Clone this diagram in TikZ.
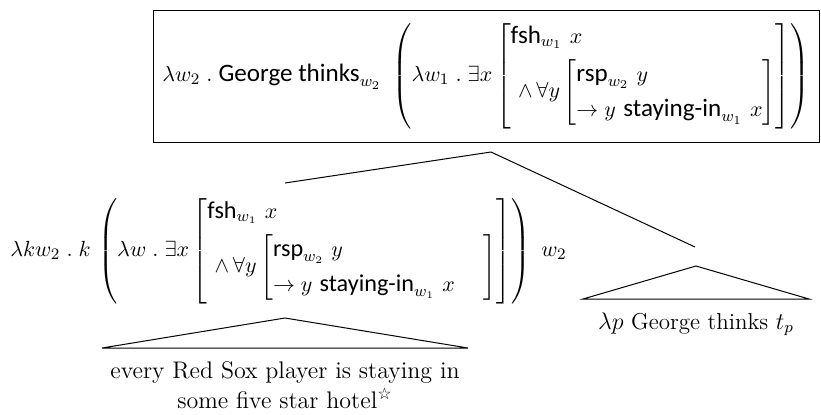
\documentclass[tikz,border=0pt]{standalone}
\usepackage{amsmath}
\usepackage{fontspec}
\setsansfont{Carlito}[Scale=1.1]
\newfontfamily\starfont{DejaVu Sans}
\newcommand{\sfw}[1]{\textsf{#1}}
\newcommand{\innerrows}[1]{\renewcommand{\arraystretch}{1.35}\begin{array}{@{}l@{#1}}\sfw{rsp}_{w_2}\ y\\ \rightarrow y\ \sfw{staying-in}_{w_1}\ x\end{array}}
\begin{document}
\begin{tikzpicture}[x=0.5pt,y=-0.5pt,
  every node/.style={font=\fontsize{11.5}{13.5}\selectfont, inner sep=0pt},
  mathnode/.style={font=\fontsize{11}{13}\selectfont},
  edge/.style={line width=0.5pt},
  frame/.style={draw, line width=0.5pt, inner sep=0pt}]
\useasboundingbox (0,0) rectangle (821,414);
\node[frame, minimum width=333pt, minimum height=66pt] (box) at (486.5,76) {};
\node[mathnode, font=\fontsize{11.4}{13}\selectfont, anchor=west] (top) at ([xshift=4.5pt]box.west) {$\lambda w_2\;.\;\sfw{George thinks}_{w_2}\ \left(\lambda w_1\;.\;\exists x\left[\begin{array}{@{}l@{}}\sfw{fsh}_{w_1}\ x\\[3pt] \ \wedge\,\forall y\left[\innerrows{}\right]\end{array}\right]\right)$};
\coordinate (apex) at (491,152);
\coordinate (lend) at (285,183);
\coordinate (rend) at (695,247);
\draw[edge] (lend) -- (apex) -- (rend);
\node[mathnode, anchor=west] (left) at (10,251) {$\lambda k w_2\;.\;k\,\left(\lambda w\;.\;\exists x\left[\begin{array}{@{}l@{}}\sfw{fsh}_{w_1}\ x\\[3pt] \ \wedge\,\forall y\left[\innerrows{\quad\ }\right]\end{array}\right]\right)\ w_2$};
% left triangle
\coordinate (lt) at (285,318);
\coordinate (lbl) at (102,348);
\coordinate (lbr) at (468,348);
\draw[edge] (lt) -- (lbl) -- (lbr) -- cycle;
\node[align=center, anchor=north, font=\fontsize{12}{15}\selectfont] (ltext) at (285,361) {every Red Sox player is staying in\\some five star hotel\textsuperscript{\starfont ☆}};
% right triangle
\coordinate (rt) at (696,266);
\coordinate (rbl) at (583,299);
\coordinate (rbr) at (809,299);
\draw[edge] (rt) -- (rbl) -- (rbr) -- cycle;
\node[anchor=north] (rtext) at (696,312) {$\lambda p$ George thinks $t_p$};
\end{tikzpicture}
\end{document}
